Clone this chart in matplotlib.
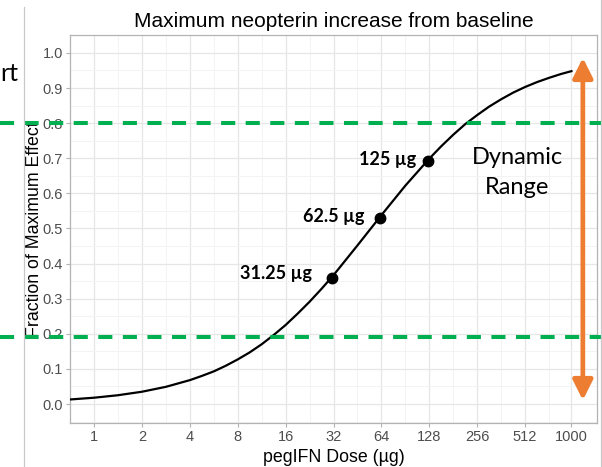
import numpy as np
import matplotlib
matplotlib.use('Agg')
import matplotlib.pyplot as plt
from matplotlib.lines import Line2D
from matplotlib.patches import FancyArrowPatch

# curve (dose in ug, fraction of max effect)
dose = [0.707, 1, 1.41, 2, 2.83, 4, 4.76, 5.66, 6.73, 8, 9.51, 11.3, 13.5,
        16, 19.0, 22.6, 26.9, 32, 45.3, 64, 90.5, 128, 152, 181, 215, 256,
        304, 362, 431, 512, 609, 724, 861, 1000]
effect = [0.013, 0.018, 0.025, 0.035, 0.049, 0.068, 0.080, 0.093, 0.109,
          0.127, 0.147, 0.170, 0.197, 0.225, 0.257, 0.291, 0.328, 0.367,
          0.452, 0.538, 0.622, 0.699, 0.734, 0.767, 0.797, 0.823, 0.847,
          0.868, 0.887, 0.903, 0.917, 0.929, 0.940, 0.948]

pt_dose = [31.25, 62.5, 125]
pt_effect = [0.360, 0.530, 0.692]
pt_labels = ['31.25 µg', '62.5 µg', '125 µg']

xticks = [1, 2, 4, 8, 16, 32, 64, 128, 256, 512, 1000]
xticklabels = ['1', '2', '4', '8', '16', '32', '64', '128', '256', '512', '1000']
yticks = [0.0, 0.1, 0.2, 0.3, 0.4, 0.5, 0.6, 0.7, 0.8, 0.9, 1.0]

range_lines = [0.8, 0.192]
arrow_dose = 1180
arrow_range = (0.003, 0.994)

axis_font = 'Liberation Sans'
slide_font = 'Lato'
green = '#00B050'
orange = '#ED7D31'

fig = plt.figure(figsize=(6.02, 4.67), dpi=100)
ax = fig.add_axes([70 / 602, 1 - 423 / 467, 527 / 602, 388 / 467])

ax.set_xscale('log', base=2)
ax.set_xlim(2 ** -0.5, 2 ** 10.48)
ax.set_ylim(-0.054, 1.051)

# grid, theme_light look
ax.set_xticks(xticks)
ax.set_xticklabels(xticklabels)
ax.set_xticks([2 ** (k + 0.5) for k in range(-1, 11)], minor=True)
ax.xaxis.set_minor_formatter(matplotlib.ticker.NullFormatter())
ax.set_yticks(yticks)
ax.set_yticklabels(['%.1f' % v for v in yticks])
ax.set_yticks([v + 0.05 for v in yticks[:-1]] + [-0.05], minor=True)
ax.grid(which='major', color='#E6E6E6', lw=0.9)
ax.grid(which='minor', color='#F3F3F3', lw=0.7)
ax.set_axisbelow(True)
for s in ax.spines.values():
    s.set_color('#B3B3B3')
    s.set_linewidth(0.9)
ax.tick_params(which='major', length=3, width=0.8, color='#B3B3B3',
               labelcolor='#4D4D4D', labelsize=10.5, pad=2)
ax.tick_params(which='minor', length=0)
for lab in ax.get_xticklabels() + ax.get_yticklabels():
    lab.set_fontfamily(axis_font)

ax.plot(dose, effect, color='black', lw=1.6, zorder=3)
ax.plot(pt_dose, pt_effect, 'o', color='black', ms=7.5, zorder=4)

offsets = [(-20, 4), (-15, 1), (-12, 2)]
for d, e, lab, off in zip(pt_dose, pt_effect, pt_labels, offsets):
    ax.annotate(lab, (d, e), xytext=off, textcoords='offset pixels',
                ha='right', va='center', fontsize=13, fontweight='bold',
                family=slide_font, color='black')

ax.set_title('Maximum neopterin increase from baseline', family=axis_font,
             fontsize=15, pad=6)
ax.set_xlabel('pegIFN Dose (µg)', family=axis_font, fontsize=12.8)
ax.set_ylabel('Fraction of Maximum Effect', family=axis_font, fontsize=12.8)
ax.xaxis.label.set_va('center')
ax.yaxis.label.set_va('center')
ax.xaxis.set_label_coords(0.5, -0.088)
ax.yaxis.set_label_coords(-0.068, 0.5)

# dashed range lines run across the whole slide
for yv in range_lines:
    ax.axhline(yv, xmin=-70 / 527, xmax=531 / 527, color=green, lw=2.9,
               ls=(0, (3.5, 2.6)), clip_on=False, zorder=5)

arrow = FancyArrowPatch((arrow_dose, arrow_range[0]), (arrow_dose, arrow_range[1]),
                        arrowstyle='<|-|>,head_length=12,head_width=6',
                        mutation_scale=1, lw=3.4, color=orange,
                        clip_on=False, zorder=6)
ax.add_patch(arrow)

ax.text(456, 0.659, 'Dynamic\nRange', ha='center', va='center', fontsize=17,
        family=slide_font, linespacing=1.55)

# pieces of the surrounding slide
fig.text(0.5 / 602, 1 - 81 / 467, 'rt', ha='left', va='baseline', fontsize=18,
         family=slide_font)
fig.add_artist(Line2D([23.5 / 602, 23.5 / 602], [0, 1 - 7 / 467],
                      color='#C8C8C8', lw=0.9))
fig.add_artist(Line2D([601 / 602, 601 / 602], [0, 1], color='#C8C8C8', lw=0.9))

fig.savefig('out.png', dpi=100)
